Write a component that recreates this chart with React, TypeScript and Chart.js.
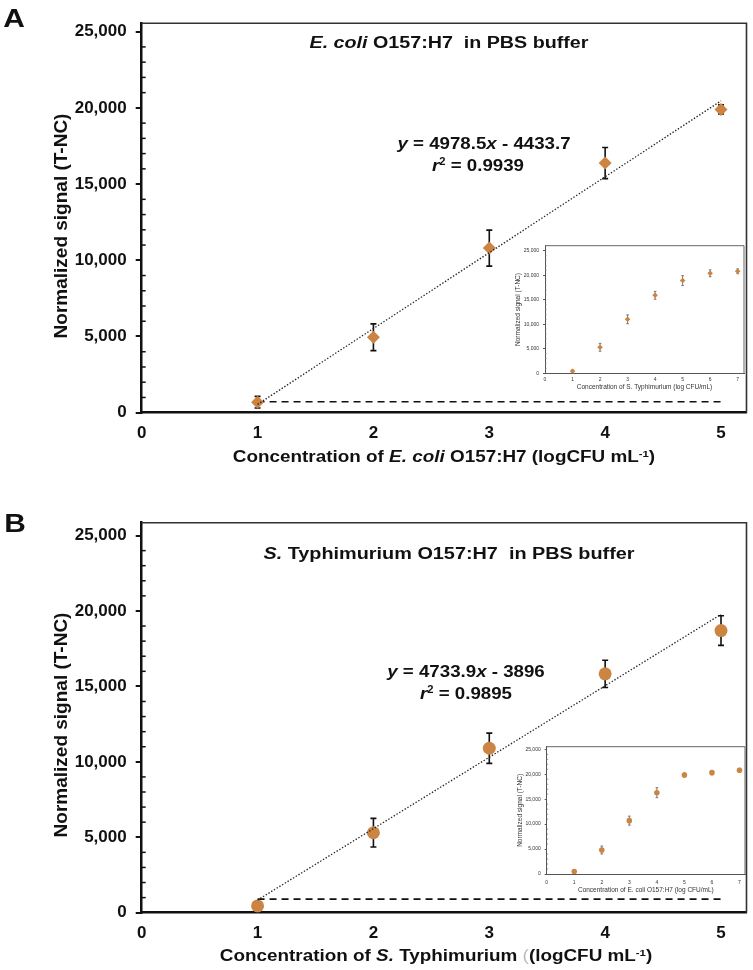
import React, { useEffect, useRef } from "react";
import { Chart, registerables } from "chart.js";
Chart.register(...registerables);

const FAMILY = "'Liberation Sans', Arial, Helvetica, sans-serif";
const ORANGE = "#CC8443";
const INK = "#111";

// ---------- Panel A : E. coli O157:H7 in PBS buffer ----------
const concentration = [1, 2, 3, 4, 5];
const ecoliSignal = [690, 4950, 10800, 16380, 19900];
const ecoliError = [380, 880, 1180, 1020, 300];
const ecoliSlope = 4978.5;
const ecoliIntercept = -4433.7;
const ecoliBaseline = 720;

// ---------- Panel B : S. Typhimurium in PBS buffer ----------
const typhiSignal = [450, 5300, 10900, 15830, 18700];
const typhiError = [150, 950, 1000, 900, 980];
const typhiSlope = 4733.9;
const typhiIntercept = -3896;
const typhiBaseline = 900;

// ---------- Insets (1-7 log CFU/mL) ----------
const insetConcentration = [1, 2, 3, 4, 5, 6, 7];
const insetTyphiSignal = [400, 5300, 11000, 15900, 18900, 20380, 20790];
const insetTyphiError = [300, 800, 900, 800, 1000, 700, 500];
const insetEcoliSignal = [500, 4810, 10700, 16300, 19850, 20320, 20790];
const insetEcoliError = [300, 800, 900, 1000, 400, 400, 400];

// ---------- Tick labels ----------
const mainXTicks = [0, 1, 2, 3, 4, 5];
const mainYTicks = [0, 5000, 10000, 15000, 20000, 25000];
const insetXTicks = [0, 1, 2, 3, 4, 5, 6, 7];
const insetYTicks = [0, 5000, 10000, 15000, 20000, 25000];

type DecoOpts = {
  errors: number[];
  errDataset: number;
  errColor: string;
  errWidth: number;
  cap: number;
  minorStep: number;
  majorStep: number;
  minorLen: number;
  minorWidth: number;
  minorColor: string;
  frameColor: string;
  frameWidth: number;
  bg?: string;
};

let pluginCounter = 0;
function decoPlugin(o: DecoOpts) {
  pluginCounter += 1;
  return {
    id: "deco" + pluginCounter,
    beforeDraw(chart: any) {
      if (!o.bg) return;
      const { ctx, chartArea: a } = chart;
      ctx.save();
      ctx.fillStyle = o.bg;
      ctx.fillRect(a.left, a.top, a.right - a.left, a.bottom - a.top);
      ctx.restore();
    },
    beforeDatasetsDraw(chart: any) {
      const { ctx, scales } = chart;
      const ds = chart.data.datasets[o.errDataset].data as { x: number; y: number }[];
      ctx.save();
      ctx.strokeStyle = o.errColor;
      ctx.lineWidth = o.errWidth;
      ds.forEach((d, i) => {
        const x = scales.x.getPixelForValue(d.x);
        const y1 = scales.y.getPixelForValue(d.y + o.errors[i]);
        const y2 = scales.y.getPixelForValue(Math.max(0, d.y - o.errors[i]));
        ctx.beginPath();
        ctx.moveTo(x, y1);
        ctx.lineTo(x, y2);
        ctx.moveTo(x - o.cap, y1);
        ctx.lineTo(x + o.cap, y1);
        ctx.moveTo(x - o.cap, y2);
        ctx.lineTo(x + o.cap, y2);
        ctx.stroke();
      });
      ctx.restore();
    },
    afterDraw(chart: any) {
      const { ctx, chartArea: a, scales } = chart;
      ctx.save();
      ctx.strokeStyle = o.frameColor;
      ctx.lineWidth = o.frameWidth;
      ctx.beginPath();
      ctx.moveTo(a.left, a.top);
      ctx.lineTo(a.right, a.top);
      ctx.lineTo(a.right, a.bottom);
      ctx.stroke();
      ctx.strokeStyle = o.minorColor;
      ctx.lineWidth = o.minorWidth;
      const ys = scales.y;
      for (let v = o.minorStep; v < ys.max; v += o.minorStep) {
        if (v % o.majorStep === 0) continue;
        const y = ys.getPixelForValue(v);
        ctx.beginPath();
        ctx.moveTo(a.left, y);
        ctx.lineTo(a.left + o.minorLen, y);
        ctx.stroke();
      }
      ctx.restore();
    },
  };
}

type MainOpts = {
  signal: number[];
  error: number[];
  slope: number;
  intercept: number;
  baseline: number;
  pointStyle: string;
  padTop: number;
  padRight: number;
  xHeight: number;
  yMax: number;
};

function mainConfig(p: MainOpts): any {
  const first = concentration[0];
  const last = concentration[concentration.length - 1];
  const trend = [
    { x: first, y: p.slope * first + p.intercept },
    { x: last, y: p.slope * last + p.intercept },
  ];
  const base = [
    { x: first, y: p.baseline },
    { x: last, y: p.baseline },
  ];
  const points = concentration.map((x, i) => ({ x, y: p.signal[i] }));
  const tickFont = { family: FAMILY, size: 17, weight: "bold" as const };
  return {
    type: "scatter",
    data: {
      datasets: [
        { data: trend, showLine: true, borderColor: "#222", borderWidth: 1.3, borderDash: [1.4, 1.8], pointRadius: 0, fill: false },
        { data: points, pointStyle: p.pointStyle, pointRadius: 6.5, backgroundColor: ORANGE, borderColor: ORANGE, borderWidth: 0 },
        { data: base, showLine: true, borderColor: INK, borderWidth: 1.6, borderDash: [7, 5], pointRadius: 0, fill: false },
      ],
    },
    options: {
      responsive: false,
      animation: false,
      devicePixelRatio: 1,
      layout: { padding: { left: 50, top: p.padTop, right: p.padRight, bottom: 0 } },
      plugins: { legend: { display: false }, tooltip: { enabled: false } },
      scales: {
        x: {
          type: "linear",
          min: 0,
          max: 5.22,
          afterBuildTicks: (s: any) => { s.ticks = mainXTicks.map((value) => ({ value })); },
          afterFit: (s: any) => { s.height = p.xHeight; },
          grid: { display: false, drawTicks: false },
          border: { display: true, color: INK, width: 2.5 },
          ticks: { padding: 10, font: tickFont, color: INK, autoSkip: false, maxRotation: 0 },
        },
        y: {
          type: "linear",
          min: 0,
          max: p.yMax,
          afterBuildTicks: (s: any) => { s.ticks = mainYTicks.map((value) => ({ value })); },
          afterFit: (s: any) => { s.width = 91.7; },
          grid: { display: true, drawOnChartArea: false, drawTicks: true, tickLength: 6, color: INK, lineWidth: 2 },
          border: { display: true, color: INK, width: 2.5 },
          ticks: { padding: 9, font: tickFont, color: INK, callback: (v: any) => Number(v).toLocaleString("en-US") },
          title: { display: false },
        },
      },
    },
    plugins: [
      decoPlugin({
        errors: p.error, errDataset: 1, errColor: INK, errWidth: 1.6, cap: 3,
        minorStep: 1000, majorStep: 5000, minorLen: 4, minorWidth: 1.5, minorColor: INK,
        frameColor: "#333", frameWidth: 1.6,
      }),
    ],
  };
}

type InsetOpts = {
  signal: number[];
  error: number[];
  pointStyle: string;
  padTop: number;
  padLeft: number;
  padRight: number;
  yWidth: number;
  xHeight: number;
  yMax: number;
  xMax: number;
  xTitle: string;
  xTickPad: number;
  xTitlePad: number;
};

function insetConfig(p: InsetOpts): any {
  const points = insetConcentration.map((x, i) => ({ x, y: p.signal[i] }));
  const tickFont = { family: FAMILY, size: 5 };
  return {
    type: "scatter",
    data: {
      datasets: [
        { data: points, pointStyle: p.pointStyle, pointRadius: 2.8, backgroundColor: ORANGE, borderColor: ORANGE, borderWidth: 0 },
      ],
    },
    options: {
      responsive: false,
      animation: false,
      devicePixelRatio: 1,
      layout: { padding: { left: p.padLeft, top: p.padTop, right: p.padRight, bottom: 0 } },
      plugins: { legend: { display: false }, tooltip: { enabled: false } },
      scales: {
        x: {
          type: "linear",
          min: 0,
          max: p.xMax,
          afterBuildTicks: (s: any) => { s.ticks = insetXTicks.map((value) => ({ value })); },
          afterFit: (s: any) => { s.height = p.xHeight; },
          grid: { display: false, drawTicks: false },
          border: { display: true, color: "#555", width: 1 },
          ticks: { padding: p.xTickPad, font: tickFont, color: "#333", autoSkip: false, maxRotation: 0 },
          title: { display: true, text: p.xTitle, font: { family: FAMILY, size: 6.5 }, color: "#333", padding: { top: 0, bottom: p.xTitlePad } },
        },
        y: {
          type: "linear",
          min: 0,
          max: p.yMax,
          afterBuildTicks: (s: any) => { s.ticks = insetYTicks.map((value) => ({ value })); },
          afterFit: (s: any) => { s.width = p.yWidth; },
          grid: { display: true, drawOnChartArea: false, drawTicks: true, tickLength: 2, color: "#555", lineWidth: 1 },
          border: { display: true, color: "#555", width: 1 },
          ticks: { padding: 4, font: tickFont, color: "#333", callback: (v: any) => Number(v).toLocaleString("en-US") },
          title: { display: true, text: "Normalized signal (T-NC)", font: { family: FAMILY, size: 6.5 }, color: "#333", padding: 0 },
        },
      },
    },
    plugins: [
      decoPlugin({
        errors: p.error, errDataset: 0, errColor: "#777", errWidth: 1, cap: 1.3,
        minorStep: 1000, majorStep: 5000, minorLen: 1.5, minorWidth: 0.8, minorColor: "#777",
        frameColor: "#666", frameWidth: 1, bg: "#fff",
      }),
    ],
  };
}

function ChartCanvas(props: { left: number; top: number; width: number; height: number; make: () => any }) {
  const ref = useRef<HTMLCanvasElement>(null);
  useEffect(() => {
    const chart = new Chart(ref.current as HTMLCanvasElement, props.make());
    return () => chart.destroy();
  }, []);
  return (
    <canvas
      ref={ref}
      width={props.width}
      height={props.height}
      style={{ position: "absolute", left: props.left, top: props.top, width: props.width, height: props.height, display: "block" }}
    />
  );
}

function Label(props: { x: number; y: number; size: number; sx?: number; rotate?: number; bold?: boolean; children: any }) {
  const rot = props.rotate ? ` rotate(${props.rotate}deg)` : "";
  return (
    <div
      style={{
        position: "absolute",
        left: props.x,
        top: props.y,
        transform: `translate(-50%, -50%)${rot} scaleX(${props.sx ?? 1})`,
        fontSize: props.size,
        fontWeight: props.bold === false ? 400 : 700,
        whiteSpace: "nowrap",
        lineHeight: 1,
        color: INK,
      }}
    >
      {props.children}
    </div>
  );
}

const supStyle: React.CSSProperties = { fontSize: "0.6em", verticalAlign: "0.55em" };

export default function App() {
  return (
    <div style={{ position: "absolute", left: 0, top: 0, width: 753, height: 970, background: "#fff", fontFamily: FAMILY, overflow: "hidden" }}>
      <ChartCanvas
        left={0}
        top={0}
        width={753}
        height={480}
        make={() =>
          mainConfig({
            signal: ecoliSignal, error: ecoliError, slope: ecoliSlope, intercept: ecoliIntercept,
            baseline: ecoliBaseline, pointStyle: "rectRot", padTop: 23.3, padRight: 6, xHeight: 67.3, yMax: 25550,
          })
        }
      />
      <ChartCanvas
        left={0}
        top={480}
        width={753}
        height={490}
        make={() =>
          mainConfig({
            signal: typhiSignal, error: typhiError, slope: typhiSlope, intercept: typhiIntercept,
            baseline: typhiBaseline, pointStyle: "circle", padTop: 42.7, padRight: 5, xHeight: 57.3, yMax: 25850,
          })
        }
      />
      <ChartCanvas
        left={495}
        top={236}
        width={255}
        height={160}
        make={() =>
          insetConfig({
            signal: insetTyphiSignal, error: insetTyphiError, pointStyle: "rectRot",
            padTop: 9.7, padLeft: 19.4, padRight: 6, yWidth: 30.6, xHeight: 22.7, yMax: 26000, xMax: 7.23,
            xTitle: "Concentration of S. Typhimurium (log CFU/mL)", xTickPad: 3, xTitlePad: 4.8,
          })
        }
      />
      <ChartCanvas
        left={495}
        top={736}
        width={255}
        height={160}
        make={() =>
          insetConfig({
            signal: insetEcoliSignal, error: insetEcoliError, pointStyle: "circle",
            padTop: 10.7, padLeft: 21.1, padRight: 5, yWidth: 30.6, xHeight: 22, yMax: 25520, xMax: 7.2,
            xTitle: "Concentration of E. coli O157:H7 (log CFU/mL)", xTickPad: 5.7, xTitlePad: 2.1,
          })
        }
      />

      <Label x={14} y={17.5} size={26} sx={1.15}>A</Label>
      <Label x={15} y={522.5} size={26} sx={1.15}>B</Label>

      <Label x={60} y={226} size={19} rotate={-90}>Normalized signal (T-NC)</Label>
      <Label x={60} y={725} size={19} rotate={-90}>Normalized signal (T-NC)</Label>

      <Label x={449} y={43} size={16} sx={1.23}>
        <i>E. coli</i> O157:H7{"\u00a0 "}in PBS buffer
      </Label>
      <Label x={449} y={554} size={16} sx={1.24}>
        <i>S.</i> Typhimurium O157:H7{"\u00a0 "}in PBS buffer
      </Label>

      <Label x={484} y={143} size={17} sx={1.1}>
        <i>y</i> = 4978.5<i>x</i> - 4433.7
      </Label>
      <Label x={478} y={165} size={17} sx={1.1}>
        <i>r</i><span style={supStyle}>2</span> = 0.9939
      </Label>
      <Label x={465.5} y={670.7} size={17} sx={1.1}>
        <i>y</i> = 4733.9<i>x</i> - 3896
      </Label>
      <Label x={466} y={692.7} size={17} sx={1.1}>
        <i>r</i><span style={supStyle}>2</span> = 0.9895
      </Label>

      <Label x={444} y={457} size={16} sx={1.18}>
        Concentration of <i>E. coli</i> O157:H7 (logCFU mL<span style={supStyle}>-1</span>)
      </Label>
      <Label x={436} y={956} size={16} sx={1.18}>
        Concentration of <i>S.</i> Typhimurium <span style={{ color: "#bbb", fontWeight: 400 }}>(</span>(logCFU mL<span style={supStyle}>-1</span>)
      </Label>
    </div>
  );
}
